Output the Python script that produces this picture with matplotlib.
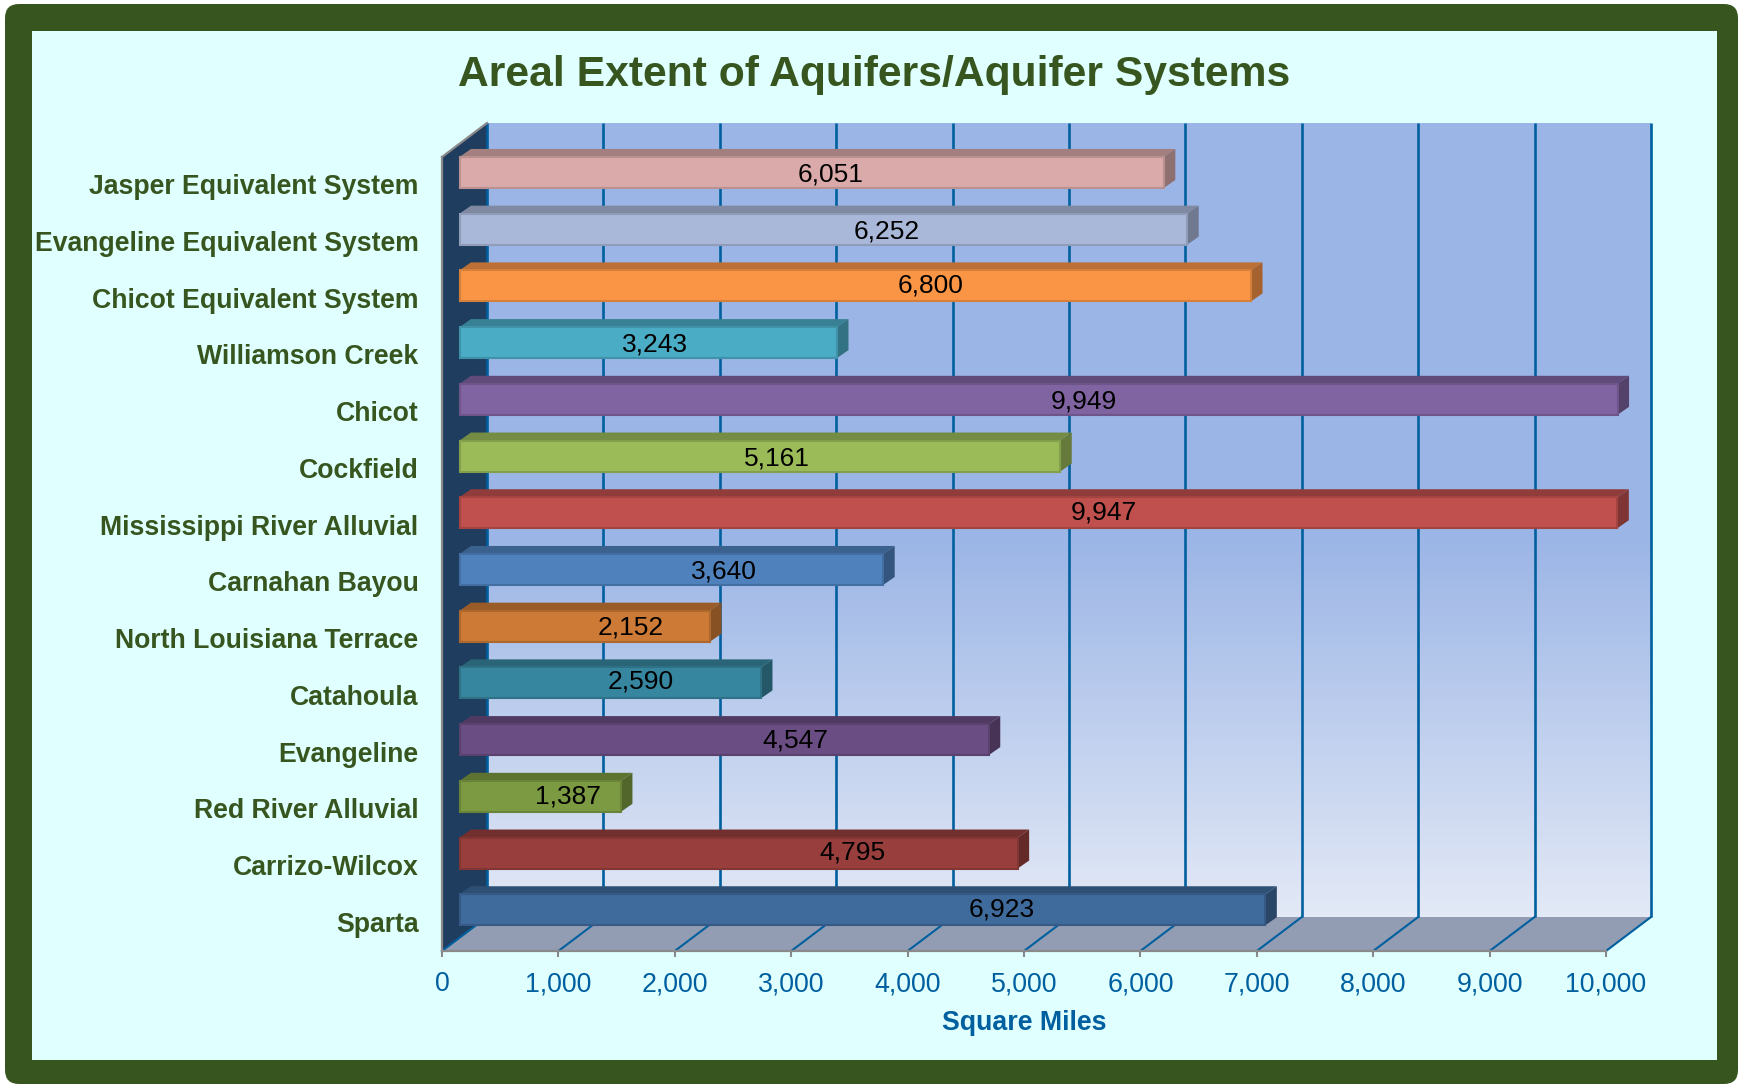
import numpy as np
import matplotlib
matplotlib.use('Agg')
import matplotlib.pyplot as plt
from matplotlib.colors import LinearSegmentedColormap, to_rgb
from matplotlib.patches import FancyBboxPatch, Rectangle, Polygon
from matplotlib.ticker import FuncFormatter
from matplotlib.transforms import Affine2D

plt.rcParams['font.family'] = ['Liberation Sans', 'DejaVu Sans']

# Chart data, top row first
aquifers = ['Jasper Equivalent System', 'Evangeline Equivalent System', 'Chicot Equivalent System',
            'Williamson Creek', 'Chicot', 'Cockfield', 'Mississippi River Alluvial', 'Carnahan Bayou',
            'North Louisiana Terrace', 'Catahoula', 'Evangeline', 'Red River Alluvial',
            'Carrizo-Wilcox', 'Sparta']
square_miles = [6051, 6252, 6800, 3243, 9949, 5161, 9947, 3640, 2152, 2590, 4547, 1387, 4795, 6923]
x_ticks = [0, 1000, 2000, 3000, 4000, 5000, 6000, 7000, 8000, 9000, 10000]

# Style
bar_colors = ['#D9AAA9', '#A9B8D8', '#FB9546', '#4BACC6', '#8064A2', '#9BBB59', '#C0504D',
              '#4F81BD', '#CC7A35', '#37869F', '#6A4D82', '#7C9A42', '#983F3D', '#3F6A9C']
# The value labels sit oddly along the bars in the original, so shift them (pixels)
label_shift_x = [20, 65, 77, 8, 47, 19, 67, 54, 47, 32, 73, 29, 115, 141]
label_shift_y = [0, 0, 2, 0, 0, 0, 2.5, 0, 1, 3, 1.5, 2, 2.5, 2.5]

GREEN = '#37561F'
BLUE = '#00609F'
WIDTH, HEIGHT = 1738, 1084


def shade(color, factor):
    return tuple(c * factor for c in to_rgb(color))


fig = plt.figure(figsize=(WIDTH / 100, HEIGHT / 100), dpi=100, facecolor='white')

# Frame, in pixel coordinates
bg = fig.add_axes([0, 0, 1, 1])
bg.set_xlim(0, WIDTH)
bg.set_ylim(HEIGHT, 0)
bg.axis('off')
bg.add_patch(FancyBboxPatch((17, 16), 1709, 1056, boxstyle='round,pad=12,rounding_size=14',
                            facecolor=GREEN, edgecolor='none'))
bg.add_patch(Rectangle((32, 31), 1685, 1029, facecolor='#E0FFFF', edgecolor='none'))
bg.text(874, 75, 'Areal Extent of Aquifers/Aquifer Systems', color=GREEN, fontsize=30.7,
        fontweight='bold', ha='center', va='center')

# Main axes is the front plane of the 3D box
left, right, top, bottom = 442, 1606, 157, 951
ax = fig.add_axes([left / WIDTH, 1 - bottom / HEIGHT, (right - left) / WIDTH, (bottom - top) / HEIGHT])
ax.patch.set_alpha(0)
xmax = 10000
rows = np.arange(len(aquifers))
px_x = xmax / (right - left)
px_y = len(aquifers) / (bottom - top)
depth_x, depth_y = 45 * px_x, 34 * px_y
y_top, y_bot = -0.5, len(aquifers) - 0.5

# Back wall with its gradient, flat for the upper half
wall_cmap = LinearSegmentedColormap.from_list('wall', [(0, '#9BB5E6'), (0.52, '#9BB5E6'), (1, '#E3E9F6')])
gradient = np.linspace(0, 1, 256).reshape(-1, 1)
ax.imshow(gradient, cmap=wall_cmap, aspect='auto', origin='upper', zorder=1, clip_on=False,
          extent=(depth_x, xmax + depth_x, y_bot - depth_y, y_top - depth_y))

# Side wall and floor
ax.add_patch(Polygon([(0, y_top), (depth_x, y_top - depth_y), (depth_x, y_bot - depth_y), (0, y_bot)],
                     facecolor='#1F3D5E', edgecolor='none', zorder=2, clip_on=False))
ax.add_patch(Polygon([(0, y_bot), (xmax, y_bot), (xmax + depth_x, y_bot - depth_y), (depth_x, y_bot - depth_y)],
                     facecolor='#929CB3', edgecolor='none', zorder=2, clip_on=False))

# Gridlines on wall and floor
for t in x_ticks:
    ax.plot([t + depth_x, t + depth_x], [y_top - depth_y, y_bot - depth_y], color=BLUE, lw=1.9,
            zorder=3, clip_on=False, solid_capstyle='butt')
    ax.plot([t, t + depth_x], [y_bot, y_bot - depth_y], color=BLUE, lw=1.5, zorder=3, clip_on=False)
ax.plot([0, depth_x], [y_top, y_top - depth_y], color='#8A8A8A', lw=1.6, zorder=3, clip_on=False)

# Bars, front face plus top and right faces
bar_x = 17.5 * px_x
bar_y = 12.9 * px_y
bar_h = 31 * px_y
cap_x, cap_y = 11.5 * px_x, 8 * px_y
for i, (value, color) in enumerate(zip(square_miles, bar_colors)):
    y0 = rows[i] - bar_y - bar_h / 2
    y1 = y0 + bar_h
    x0 = bar_x
    x1 = bar_x + value
    dark = shade(color, 0.75)
    ax.add_patch(Polygon([(x0, y0), (x0 + cap_x, y0 - cap_y), (x1 + cap_x, y0 - cap_y), (x1, y0)],
                         facecolor=dark, edgecolor='none', zorder=4, clip_on=False))
    ax.add_patch(Polygon([(x1, y0), (x1 + cap_x, y0 - cap_y), (x1 + cap_x, y1 - cap_y), (x1, y1)],
                         facecolor=shade(color, 0.66), edgecolor='none', zorder=4, clip_on=False))
    ax.barh(rows[i] - bar_y, value, left=bar_x, height=bar_h, color=color, edgecolor=shade(color, 0.85),
            linewidth=1.5, zorder=5, clip_on=False)
    ax.text(bar_x + value / 2 + (label_shift_x[i] - 1.5) * px_x, rows[i] - bar_y - (label_shift_y[i] - 2) * px_y,
            f'{value:,}', color='black', fontsize=19, ha='center', va='center', zorder=6)

# Axes
ax.set_xlim(0, xmax)
ax.set_ylim(y_bot, y_top)
ax.set_xticks(x_ticks)
ax.xaxis.set_major_formatter(FuncFormatter(lambda v, pos: f'{int(v):,}'))
ax.set_yticks(rows)
ax.set_yticklabels(aquifers, color=GREEN, fontsize=19.2, fontweight='bold')
ax.tick_params(axis='y', length=0, pad=17)
ax.tick_params(axis='x', length=4.5, width=1.5, color='#8A8A8A', labelcolor=BLUE, labelsize=19.3, pad=10)
# nudge the row labels up a little
for lab in ax.get_yticklabels():
    lab.set_transform(lab.get_transform() + Affine2D().translate(0, 1))
for side in ['top', 'right']:
    ax.spines[side].set_visible(False)
for side in ['left', 'bottom']:
    ax.spines[side].set_color('#8A8A8A')
    ax.spines[side].set_linewidth(1.6)
    ax.spines[side].set_zorder(7)
ax.set_xlabel('Square Miles', color=BLUE, fontsize=19.3, fontweight='bold', labelpad=9)

fig.savefig('out.png', dpi=100, facecolor='white')
